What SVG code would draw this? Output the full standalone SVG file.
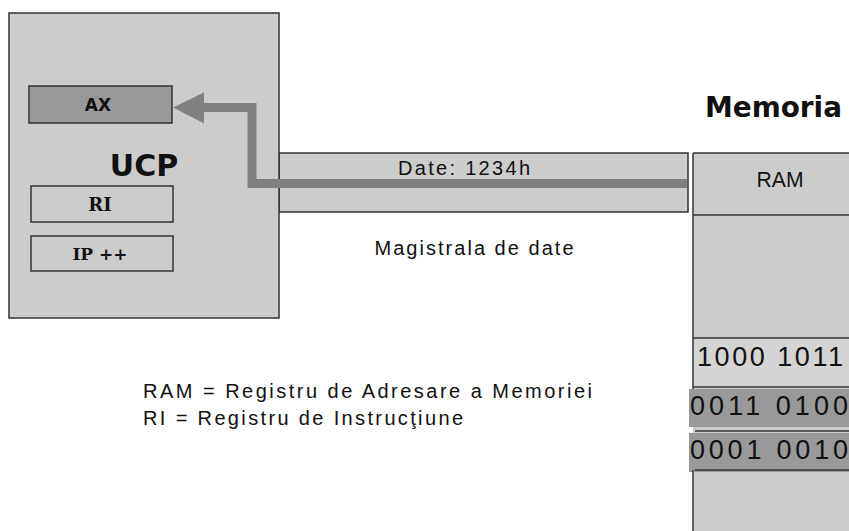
<svg xmlns="http://www.w3.org/2000/svg" width="849" height="531" viewBox="0 0 849 531">
<style>
.box{fill:#cccccc;stroke:#333333;stroke-width:1.5}
.dark{fill:#999999;stroke:#333333;stroke-width:1.5}
.sans{font-family:"Liberation Sans",Arial,sans-serif;fill:#111}
.bold{font-family:"DejaVu Sans",sans-serif;font-weight:bold;fill:#111}
.serifb{font-family:"DejaVu Serif",serif;font-weight:bold;fill:#111}
.line{stroke:#333333;stroke-width:1.5}
</style>
<rect width="849" height="531" fill="#ffffff"/>
<g id="bus">
  <rect class="box" x="279" y="153" width="409" height="59"/>
  <text class="sans" x="464" y="175" font-size="20" text-anchor="middle" textLength="132" lengthAdjust="spacing">Date: 1234h</text>
  <text class="sans" x="474" y="255" font-size="20" text-anchor="middle" textLength="199" lengthAdjust="spacing">Magistrala de date</text>
</g>
<g id="ucp">
  <rect class="box" x="9" y="13" width="270" height="305"/>
  <text class="bold" x="144" y="176" font-size="30" text-anchor="middle">UCP</text>
</g>
<g id="ax">
  <rect class="dark" x="29" y="86" width="143" height="37"/>
  <text class="bold" x="98" y="111" font-size="17" text-anchor="middle">AX</text>
</g>
<g id="ri">
  <rect class="box" x="31" y="186" width="142" height="36"/>
  <text class="serifb" x="100" y="211" font-size="18" text-anchor="middle">RI</text>
</g>
<g id="ip">
  <rect class="box" x="31" y="236" width="142" height="35"/>
  <text class="serifb" x="100" y="260" font-size="17" text-anchor="middle">IP ++</text>
</g>
<g id="memoria">
  <text class="bold" x="705" y="117" font-size="28" textLength="137" lengthAdjust="spacingAndGlyphs">Memoria</text>
  <rect fill="#cccccc" x="693" y="153" width="160" height="378"/>
  <rect fill="#d4d4d4" x="693" y="338" width="160" height="50"/>
  <rect fill="#999999" x="689" y="389" width="164" height="38"/>
  <rect fill="#999999" x="689" y="433" width="164" height="39"/>
  <line class="line" x1="693" y1="153" x2="849" y2="153"/>
  <line class="line" x1="693" y1="215" x2="849" y2="215"/>
  <line class="line" x1="693" y1="338" x2="849" y2="338"/>
  <line class="line" x1="693" y1="387" x2="849" y2="387"/>
  <line class="line" x1="695" y1="431" x2="849" y2="431"/>
  <line class="line" x1="695" y1="470" x2="849" y2="470"/>
  <line class="line" x1="693" y1="153" x2="693" y2="389"/>
  <line class="line" x1="693" y1="470" x2="693" y2="531"/>
  <text class="sans" x="780" y="187" font-size="22" text-anchor="middle" textLength="47" lengthAdjust="spacingAndGlyphs">RAM</text>
  <text class="sans" x="697" y="366" font-size="27" textLength="146" lengthAdjust="spacing">1000 1011</text>
  <text class="sans" x="690" y="415" font-size="27" textLength="158" lengthAdjust="spacing">0011 0100</text>
  <text class="sans" x="690" y="459" font-size="27" textLength="158" lengthAdjust="spacing">0001 0010</text>
</g>
<g id="connectors">
  <path d="M687 183.5 H252 V107.5 H200" fill="none" stroke="#808080" stroke-width="9"/>
  <polygon points="173,107.5 204,92.5 204,123.5" fill="#808080"/>
</g>
<g id="legend">
  <text class="sans" x="143" y="398" font-size="20" textLength="449" lengthAdjust="spacing">RAM = Registru de Adresare a Memoriei</text>
  <text class="sans" x="143" y="425" font-size="20" textLength="320" lengthAdjust="spacing">RI = Registru de Instrucţiune</text>
</g>
</svg>
